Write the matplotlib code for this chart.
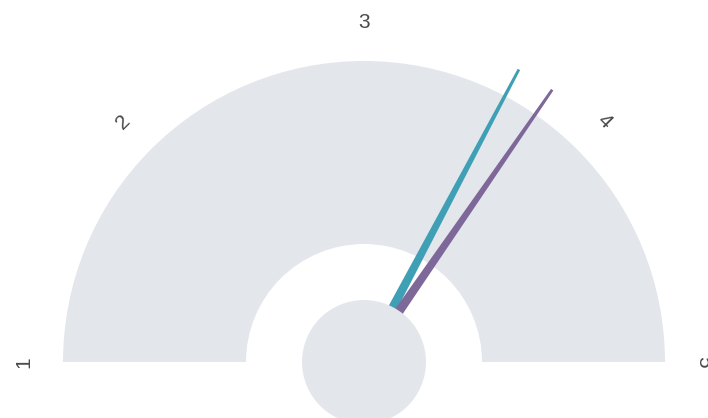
import numpy as np
import matplotlib
matplotlib.use('Agg')
import matplotlib.pyplot as plt
from matplotlib.patches import Wedge, Circle, Polygon

# gauge scale and needle values
scale_min = 1
scale_max = 5
tick_labels = ['1', '2', '3', '4', '5']
needle_values = [3.62, 3.77]
needle_colors = ['#3f9fb4', '#7e6899']

band_color = '#e3e6eb'
R = 301.0  # outer radius in pixels, used to keep units at 1


def value_to_angle(v):
    return np.pi * (1 - (v - scale_min) / (scale_max - scale_min))


fig = plt.figure(figsize=(7.08, 4.18), dpi=100)
ax = fig.add_axes([0, 0, 1, 1])
ax.set_xlim(-364 / R, (708 - 364) / R)
ax.set_ylim(-(418 - 362) / R, 362 / R)
ax.set_aspect('equal')
ax.axis('off')

ax.add_patch(Wedge((0, 0), 1.0, 0, 180, width=1 - 118 / R,
                   facecolor=band_color, edgecolor='none', zorder=1))

# needles: tapered, from center to beyond the band
needle_len = 331 / R
w_base = 5.2 / R
w_tip = 1.4 / R
for val, col in zip(needle_values, needle_colors):
    a = value_to_angle(val)
    d = np.array([np.cos(a), np.sin(a)])
    n = np.array([-np.sin(a), np.cos(a)])
    pts = [n * w_base, d * needle_len + n * w_tip,
           d * needle_len - n * w_tip, -n * w_base]
    ax.add_patch(Polygon(pts, closed=True, facecolor=col, edgecolor='none', zorder=2))

ax.add_patch(Circle((0, 0), 62 / R, facecolor=band_color, edgecolor='none', zorder=3))

# tick labels round the arc
label_r = 340 / R
for i, lab in enumerate(tick_labels):
    v = scale_min + i
    a = value_to_angle(v)
    ax.text(label_r * np.cos(a), label_r * np.sin(a), lab,
            rotation=np.degrees(a) - 90, rotation_mode='anchor',
            ha='center', va='center', fontsize=15, color='#4a4a4a',
            family='Liberation Sans')

fig.savefig('out.png', dpi=100)
